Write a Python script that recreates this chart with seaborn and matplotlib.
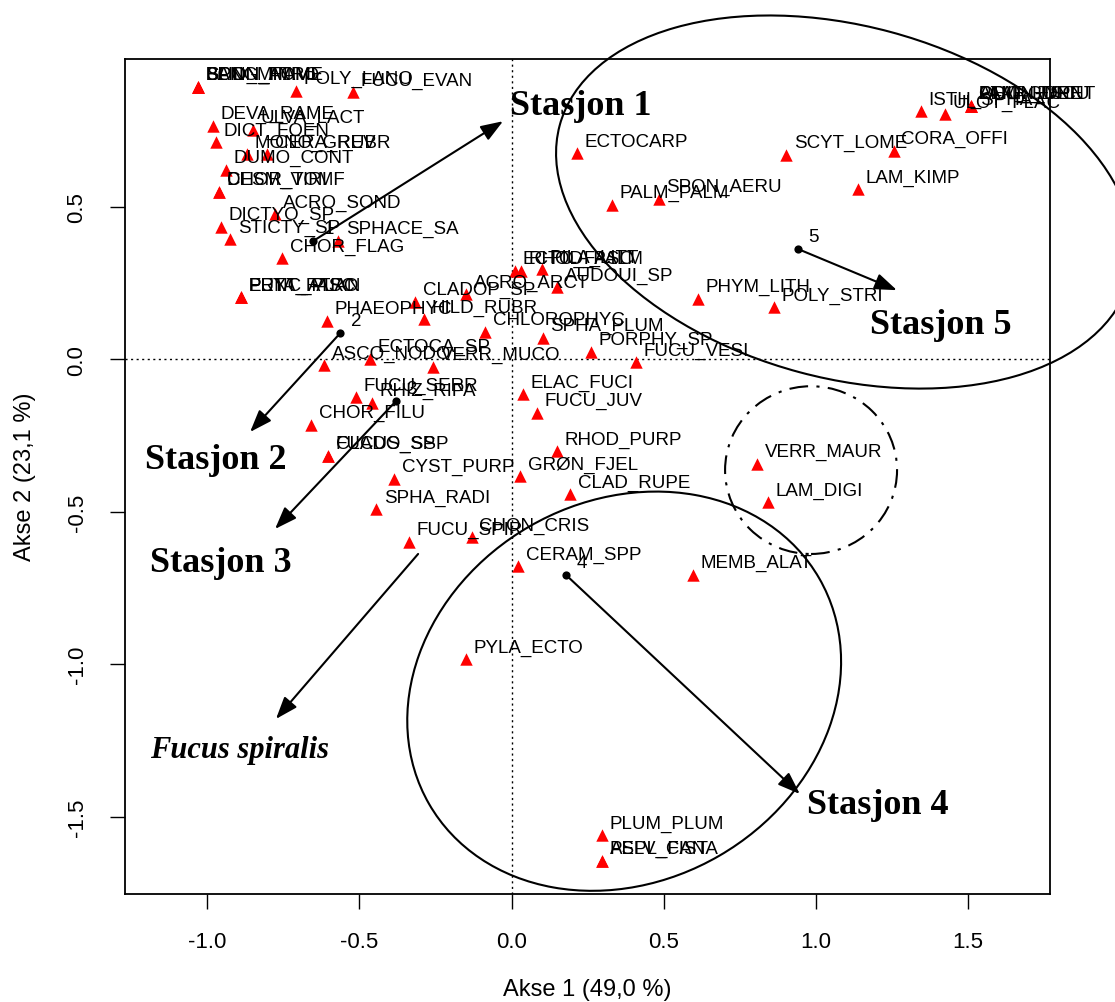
import matplotlib
matplotlib.use("Agg")
import matplotlib.pyplot as plt
from matplotlib.patches import Ellipse
import seaborn as sns
import pandas as pd

# ---- species scores (Akse 1, Akse 2) ----
species = ["BANG_ATRO", "BONN_HAMI", "BLID_MINI", "SPON_TOME", "POLY_LANO", "FUCU_EVAN",
           "DEVA_RAME", "ULVA_LACT", "DICT_FOEN", "MONO_GREV", "CERA_RUBR", "DUMO_CONT",
           "DESM_VIRI", "CHOR_TOMF", "ACRO_SOND", "DICTYO_SP", "STICTY_SP", "SPHACE_SA",
           "CHOR_FLAG", "PETA_FASC", "ERYT_ATRO", "PUNC_PLAN", "PHAEOPHYC", "CLADOP_SP",
           "HILD_RUBR", "ACRO_ARCT", "CHLOROPHYC", "ECTOCA_SP", "ASCO_NODO", "VERR_MUCO",
           "FUCU_SERR", "RHIZ_RIPA", "CHOR_FILU", "FUCUS_SP", "CLADO_SSP", "CYST_PURP",
           "SPHA_RADI", "FUCU_SPIR", "CHON_CRIS", "CERAM_SPP", "PYLA_ECTO", "PLUM_PLUM",
           "PELV_CANA", "ASPL_FIST", "GRØN_FJEL", "RHOD_PURP", "CLAD_RUPE", "ELAC_FUCI",
           "FUCU_JUV", "MEMB_ALAT", "VERR_MAUR", "LAM_DIGI", "FUCU_VESI", "PORPHY_SP",
           "SPHA_PLUM", "AUDOUI_SP", "PILA_LITT", "ECTO_FASC", "RHOD_PALM", "PHYM_LITH",
           "POLY_STRI", "ECTOCARP", "PALM_PALM", "SPON_AERU", "SCYT_LOME", "CORA_OFFI",
           "LAM_KIMP", "ISTH_SPHA", "ULOT_FLAC", "ALAR_ESCU", "LAMI_HYPE", "ODON_DENT",
           "PTIL_GUNF"]
axis1 = [-1.030, -1.030, -1.030, -1.030, -0.709, -0.521,
         -0.981, -0.849, -0.971, -0.869, -0.803, -0.938,
         -0.961, -0.961, -0.777, -0.955, -0.925, -0.570,
         -0.754, -0.888, -0.888, -0.888, -0.606, -0.317,
         -0.288, -0.150, -0.087, -0.465, -0.616, -0.258,
         -0.512, -0.459, -0.659, -0.603, -0.603, -0.386,
         -0.445, -0.337, -0.131, 0.021, -0.150, 0.297,
         0.297, 0.297, 0.028, 0.149, 0.192, 0.037,
         0.083, 0.596, 0.806, 0.842, 0.409, 0.261,
         0.103, 0.149, 0.100, 0.011, 0.031, 0.613,
         0.862, 0.215, 0.330, 0.484, 0.902, 1.256,
         1.138, 1.345, 1.424, 1.509, 1.509, 1.509,
         1.509]
axis2 = [0.892, 0.892, 0.892, 0.892, 0.879, 0.875,
         0.764, 0.751, 0.711, 0.672, 0.672, 0.620,
         0.548, 0.548, 0.475, 0.433, 0.393, 0.387,
         0.331, 0.203, 0.203, 0.203, 0.125, 0.187,
         0.131, 0.213, 0.089, 0.000, -0.020, -0.026,
         -0.125, -0.144, -0.216, -0.318, -0.318, -0.393,
         -0.492, -0.600, -0.584, -0.679, -0.984, -1.561,
         -1.646, -1.646, -0.384, -0.302, -0.443, -0.115,
         -0.177, -0.708, -0.344, -0.469, -0.010, 0.023,
         0.069, 0.236, 0.295, 0.289, 0.289, 0.197,
         0.170, 0.675, 0.505, 0.525, 0.669, 0.682,
         0.557, 0.813, 0.803, 0.830, 0.830, 0.830,
         0.830]

# ---- station centroids and arrows ----
station_ids = ["1", "2", "3", "4", "5"]
station_x = [-0.652, -0.563, -0.380, 0.179, 0.941]
station_y = [0.387, 0.085, -0.138, -0.708, 0.361]

arrow_names = ["Stasjon 1", "Stasjon 2", "Stasjon 3", "Stasjon 4", "Stasjon 5", "Fucus spiralis"]
arrow_x0 = [-0.652, -0.563, -0.380, 0.179, 0.941, -0.307]
arrow_y0 = [0.387, 0.085, -0.138, -0.708, 0.361, -0.639]
arrow_x1 = [-0.028, -0.859, -0.777, 0.947, 1.266, -0.774]
arrow_y1 = [0.780, -0.239, -0.557, -1.426, 0.226, -1.180]
name_x = [-0.005, -1.204, -1.188, 0.970, 1.177, -1.188]
name_y = [0.830, -0.330, -0.666, -1.459, 0.115, -1.279]

# ---- group ellipses: centre x, centre y, width, height, angle ----
ell_cx = [1.095, 0.370, 0.984]
ell_cy = [0.515, -1.089, -0.364]
ell_w = [1.94, 1.48, 0.565]
ell_h = [1.155, 1.247, 0.55]
ell_ang = [-15, 30, 0]

xlim = (-1.27, 1.769)
ylim = (-1.754, 0.984)

sns.set_style("white")
plt.rcParams["font.family"] = ["Liberation Sans", "DejaVu Sans"]
plt.rcParams["text.color"] = "black"
plt.rcParams["axes.labelcolor"] = "black"
plt.rcParams["xtick.color"] = "black"
plt.rcParams["ytick.color"] = "black"

fig = plt.figure(figsize=(11.15, 10.03), dpi=100)
ax = fig.add_axes([125 / 1115, 1 - 895 / 1003, 925 / 1115, 835 / 1003])

df = pd.DataFrame({"x": axis1, "y": axis2, "name": species})
sns.scatterplot(data=df, x="x", y="y", marker="^", color="#ff0000", s=80,
                linewidth=0, ax=ax, legend=False, zorder=3)

st = pd.DataFrame({"x": station_x, "y": station_y, "id": station_ids})
sns.scatterplot(data=st, x="x", y="y", marker="o", color="black", s=35,
                linewidth=0, ax=ax, legend=False, zorder=4)

dx, dy = 0.025, 0.040
for nm, xx, yy in zip(species, axis1, axis2):
    ax.text(xx + dx, yy + dy, nm, ha="left", va="center", fontsize=13.5,
            color="black", zorder=5)
for sid, xx, yy in zip(station_ids, station_x, station_y):
    ax.text(xx + 0.035, yy + 0.040, sid, ha="left", va="center", fontsize=13.5,
            color="black", zorder=5)

for nm, x0, y0, x1, y1, tx, ty in zip(arrow_names, arrow_x0, arrow_y0, arrow_x1,
                                       arrow_y1, name_x, name_y):
    ax.annotate("", xy=(x1, y1), xytext=(x0, y0),
                arrowprops=dict(arrowstyle="-|>,head_length=0.9,head_width=0.33",
                                mutation_scale=15, lw=1.5, color="black",
                                shrinkA=0, shrinkB=0), zorder=4)
    if nm == "Fucus spiralis":
        ax.text(tx, ty, nm, ha="left", va="center", fontsize=22, color="black",
                family=["Liberation Serif", "DejaVu Serif"], weight="bold",
                style="italic")
    else:
        ax.text(tx, ty, nm, ha="left", va="center", fontsize=26, color="black",
                family=["Liberation Serif", "DejaVu Serif"], weight="bold")

styles = ["-", "-", (0, (9, 4, 1.5, 4))]
for cx, cy, w, h, a, ls in zip(ell_cx, ell_cy, ell_w, ell_h, ell_ang, styles):
    e = Ellipse((cx, cy), w, h, angle=a, fill=False, edgecolor="black", lw=1.5,
                linestyle=ls, clip_on=False, zorder=2)
    ax.add_patch(e)

ax.axhline(0, color="black", lw=1, ls=(0, (1.5, 2.5)), zorder=1)
ax.axvline(0, color="black", lw=1, ls=(0, (1.5, 2.5)), zorder=1)

ax.set_xlim(*xlim)
ax.set_ylim(*ylim)
ax.set_xticks([-1.0, -0.5, 0.0, 0.5, 1.0, 1.5])
ax.set_yticks([-1.5, -1.0, -0.5, 0.0, 0.5])
ax.set_xticklabels(["-1.0", "-0.5", "0.0", "0.5", "1.0", "1.5"])
ax.set_yticklabels(["-1.5", "-1.0", "-0.5", "0.0", "0.5"], rotation=90, va="center")
ax.tick_params(axis="both", direction="out", length=11, width=1, color="black",
               labelcolor="black", labelsize=16, pad=16, left=True, bottom=True)
ax.set_xlabel("")
ax.set_ylabel("")
for sp in ax.spines.values():
    sp.set_visible(True)
    sp.set_color("black")
    sp.set_linewidth(1.3)

fig.text(587 / 1115, 1 - 990 / 1003, "Akse 1 (49,0 %)", ha="center", va="center",
         fontsize=17, color="black")
fig.text(25 / 1115, 1 - 477 / 1003, "Akse 2 (23,1 %)", ha="center", va="center",
         fontsize=17, rotation=90, color="black")

fig.savefig("out.png", dpi=100)
